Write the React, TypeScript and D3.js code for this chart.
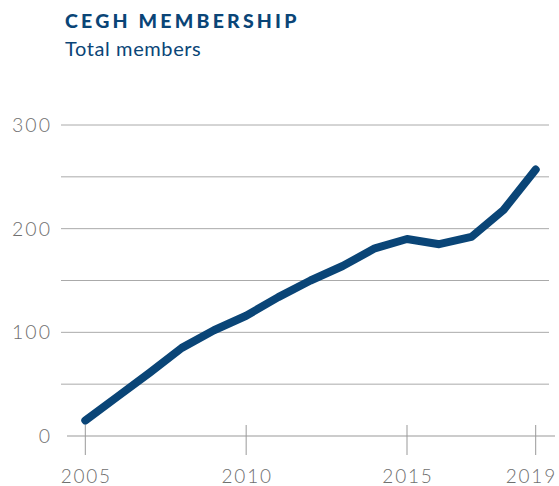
import React from "react";
import * as d3 from "d3";

const years = [2005, 2006, 2007, 2008, 2009, 2010, 2011, 2012, 2013, 2014, 2015, 2016, 2017, 2018, 2019];
const members = [15, 38, 61, 85, 102, 116, 134, 150, 164, 181, 190, 185, 192, 218, 257];
const yTicks = [0, 100, 200, 300];
const yGrid = [50, 100, 150, 200, 250, 300];
const xTicks = [2005, 2010, 2015, 2019];

const W = 559;
const H = 486;
const navy = "#0a4577";

export default function App() {
  const x = d3.scaleLinear().domain([2005, 2019]).range([85.3, 535.7]);
  const y = d3.scaleLinear().domain([0, 300]).range([436, 125]);
  const line = d3
    .line<number>()
    .x((_, i) => x(years[i]))
    .y((d) => y(d));
  const lastTick = xTicks[xTicks.length - 1];

  return (
    <svg
      width={W}
      height={H}
      style={{ position: "absolute", left: 0, top: 0 }}
      viewBox={`0 0 ${W} ${H}`}
    >
      <rect width={W} height={H} fill="#fff" />
      <text
        x={65}
        y={28}
        fill={navy}
        fontFamily="Lato"
        fontWeight={900}
        fontSize={19.5}
        letterSpacing={3.2}
      >
        CEGH MEMBERSHIP
      </text>
      <text x={65} y={56} fill={navy} fontFamily="Lato" fontSize={20} letterSpacing={0.6}>
        Total members
      </text>
      {yGrid.map((t) => (
        <line key={t} x1={61} x2={549} y1={y(t)} y2={y(t)} stroke="#aaa" strokeWidth={1} />
      ))}
      <line x1={67} x2={555} y1={y(0)} y2={y(0)} stroke="#999" strokeWidth={1} />
      {yTicks.map((t) => (
        <text
          key={t}
          x={52}
          y={y(t)}
          dy="0.36em"
          textAnchor="end"
          fill="#6f6f6f"
          fontFamily="Lato"
          fontWeight={300}
          fontSize={19.5}
          letterSpacing={2}
        >
          {t}
        </text>
      ))}
      {xTicks.map((t) => (
        <g key={t}>
          <line x1={x(t)} x2={x(t)} y1={425} y2={455} stroke="#999" strokeWidth={1} />
          <text
            x={t === lastTick ? W - 2 : x(t) + 1}
            y={483}
            textAnchor={t === lastTick ? "end" : "middle"}
            fill="#6f6f6f"
            fontFamily="Lato"
            fontWeight={300}
            fontSize={19}
            letterSpacing={1.8}
          >
            {t}
          </text>
        </g>
      ))}
      <path
        d={line(members) || ""}
        fill="none"
        stroke={navy}
        strokeWidth={8}
        strokeLinecap="round"
        strokeLinejoin="round"
      />
    </svg>
  );
}
